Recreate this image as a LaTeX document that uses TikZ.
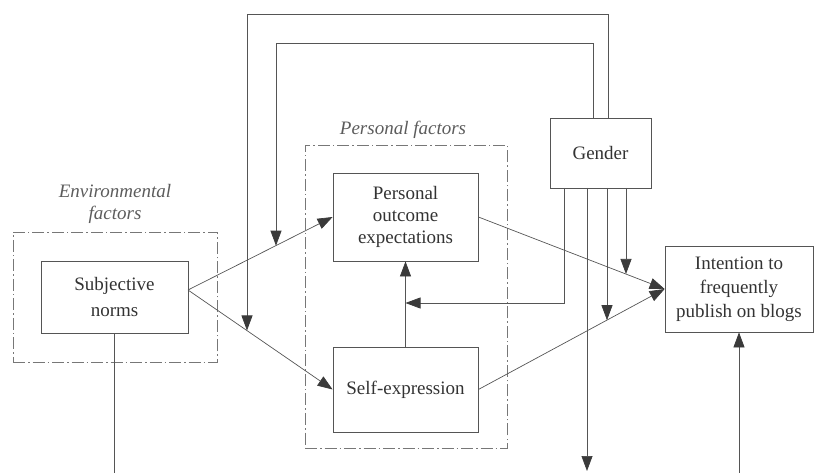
\documentclass[tikz,border=0pt]{standalone}
\usepackage{fontspec}
\setmainfont{Liberation Serif}
\usetikzlibrary{arrows.meta}
\definecolor{ln}{HTML}{555555}
\definecolor{tx}{HTML}{333333}
\definecolor{ah}{HTML}{3a3a3a}
\tikzset{
  box/.style={draw=ln, line width=0.8pt, inner sep=0pt, align=center, text=tx,
    font=\fontsize{19}{22}\selectfont},
  grp/.style={draw=ln!80, line width=0.7pt, dash pattern=on 12pt off 3pt on 1.5pt off 3pt, inner sep=0pt},
  lbl/.style={text=tx!80, align=center, font=\fontsize{19}{22}\selectfont\itshape},
  con/.style={draw=ln, line width=0.7pt},
  arr/.style={con, -{Stealth[length=15pt,width=11pt,inset=0pt,color=ah]}},
}
\begin{document}
\begin{tikzpicture}[x=1pt,y=-1pt]
\useasboundingbox (0,0) rectangle (815,473);
% group boxes
\node[grp, minimum width=204pt, minimum height=130pt] (envbox) at (115,297) {};
\node[grp, minimum width=202pt, minimum height=303pt] (persbox) at (406,296.5) {};
\node[lbl] (envlbl) at (115,204) {Environmental\\factors};
\node[lbl] (perslbl) at (403,130) {Personal factors};
% main boxes
\node[box, minimum width=147pt, minimum height=72pt, font=\fontsize{19}{26}\selectfont] (sn) at (114.5,297) {Subjective\\norms};
\node[box, minimum width=145pt, minimum height=88pt] (poe) at (405.5,217) {Personal\\outcome\\expectations};
\node[box, minimum width=145pt, minimum height=85pt] (se) at (405.5,389.5) {Self-expression};
\node[box, minimum width=101pt, minimum height=70pt] (gender) at (600.5,153) {Gender};
\node[box, minimum width=148pt, minimum height=86pt, font=\fontsize{19}{24}\selectfont] (int) at (739,289) {Intention to\\frequently\\publish on blogs};
% coordinates
\coordinate (snout) at (188,290);
\coordinate (g1) at (564,188);
\coordinate (g2) at (587,188);
\coordinate (g3) at (607,188);
\coordinate (g4) at (626,188);
\coordinate (m1) at (405.5,303);
\coordinate (e2) at (587,471);
\coordinate (e3) at (607,320.2);
\coordinate (e4) at (626,274);
\coordinate (go) at (608,118);
\coordinate (gi) at (593,118);
\coordinate (lo) at (247,330.5);
\coordinate (li) at (276,245.7);
\coordinate (snb) at (114.5,473);
\coordinate (intb) at (739,473);
% connectors
\draw[arr] (snout) -- (poe.west);
\draw[arr] (snout) -- (se.west);
\draw[arr] (poe.east) -- (int.west);
\draw[arr] (se.east) -- (int.west);
\draw[arr] (se.north) -- (poe.south);
\draw[arr] (g1) |- (m1);
\draw[arr] (g2) -- (e2);
\draw[arr] (g3) -- (e3);
\draw[arr] (g4) -- (e4);
\draw[arr] (go) -- (608,14) -| (lo);
\draw[arr] (gi) -- (593,43) -| (li);
\draw[con] (sn.south) -- (snb);
\draw[arr] (intb) -- (int.south);
\end{tikzpicture}
\end{document}
